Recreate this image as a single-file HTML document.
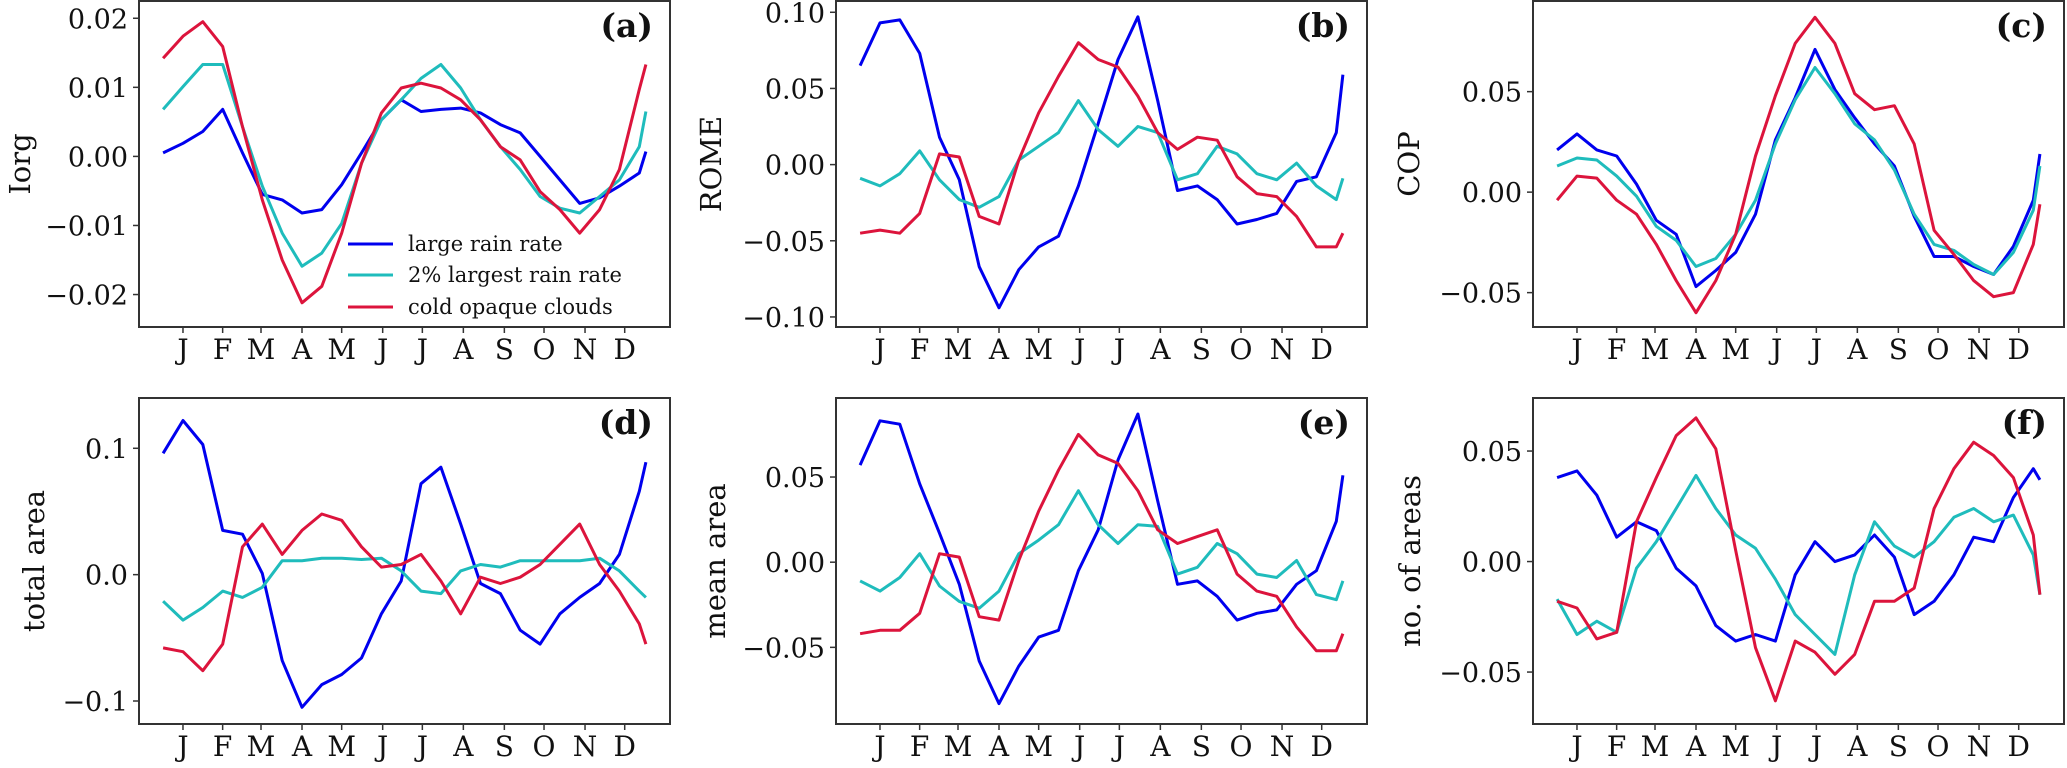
<!DOCTYPE html>
<html><head><meta charset="utf-8"><style>
html,body{margin:0;padding:0;background:#fff;}
svg{display:block;font-family:"DejaVu Serif","Liberation Serif",serif;}
</style></head><body>
<svg id="fig" width="2067" height="768" viewBox="0 0 2067 768" xmlns="http://www.w3.org/2000/svg"></svg>
<script>
const days = [0,15,30,45,60,75,90,105,120,135,150,165,180,195,210,225,240,255,270,285,300,315,330,345,360,365];
const monthLabels = ["J","F","M","A","M","J","J","A","S","O","N","D"];
const monthDays = [15,45,74,105,135,166,196,227,258,288,319,349];
const seriesNames = ["large rain rate","2% largest rain rate","cold opaque clouds"];

const aBlue = [0.0005,0.0019,0.0036,0.0068,0.0005,-0.0055,-0.0063,-0.0082,-0.0077,-0.0041,0.0005,0.0053,0.0082,0.0065,0.0068,0.0070,0.0063,0.0046,0.0034,0.0000,-0.0034,-0.0068,-0.0060,-0.0043,-0.0024,0.0007];
const aCyan = [0.0068,0.0101,0.0133,0.0133,0.0043,-0.0043,-0.0111,-0.0159,-0.0140,-0.0097,-0.0010,0.0053,0.0082,0.0113,0.0133,0.0099,0.0053,0.0014,-0.0019,-0.0058,-0.0075,-0.0082,-0.0058,-0.0034,0.0014,0.0065];
const aRed = [0.0142,0.0174,0.0195,0.0159,0.0043,-0.0063,-0.0150,-0.0212,-0.0188,-0.0111,-0.0010,0.0063,0.0099,0.0106,0.0099,0.0082,0.0053,0.0014,-0.0005,-0.0051,-0.0077,-0.0111,-0.0077,-0.0019,0.0097,0.0133];

const bBlue = [0.065,0.093,0.095,0.073,0.018,-0.010,-0.067,-0.094,-0.069,-0.054,-0.047,-0.014,0.027,0.069,0.097,0.042,-0.017,-0.014,-0.023,-0.039,-0.036,-0.032,-0.011,-0.008,0.021,0.059];
const bCyan = [-0.009,-0.014,-0.006,0.009,-0.010,-0.023,-0.028,-0.021,0.003,0.012,0.021,0.042,0.023,0.012,0.025,0.021,-0.010,-0.006,0.012,0.007,-0.006,-0.010,0.001,-0.014,-0.023,-0.009];
const bRed = [-0.045,-0.043,-0.045,-0.032,0.007,0.005,-0.034,-0.039,0.003,0.034,0.058,0.080,0.069,0.064,0.045,0.021,0.010,0.018,0.016,-0.008,-0.019,-0.021,-0.034,-0.054,-0.054,-0.045];

const cBlue = [0.021,0.029,0.021,0.018,0.004,-0.014,-0.021,-0.047,-0.039,-0.030,-0.011,0.026,0.047,0.071,0.051,0.037,0.024,0.013,-0.012,-0.032,-0.032,-0.037,-0.041,-0.027,-0.004,0.019];
const cCyan = [0.013,0.017,0.016,0.008,-0.002,-0.017,-0.024,-0.037,-0.033,-0.021,-0.004,0.024,0.046,0.062,0.049,0.034,0.026,0.011,-0.011,-0.026,-0.029,-0.036,-0.041,-0.030,-0.009,0.013];
const cRed = [-0.004,0.008,0.007,-0.004,-0.011,-0.026,-0.044,-0.060,-0.044,-0.021,0.018,0.048,0.074,0.087,0.074,0.049,0.041,0.043,0.024,-0.019,-0.031,-0.044,-0.052,-0.050,-0.026,-0.006];

const dBlue = [0.096,0.122,0.103,0.035,0.032,0.001,-0.068,-0.105,-0.087,-0.079,-0.066,-0.031,-0.005,0.072,0.085,0.040,-0.007,-0.015,-0.044,-0.055,-0.031,-0.018,-0.007,0.016,0.066,0.089];
const dCyan = [-0.021,-0.036,-0.026,-0.013,-0.018,-0.010,0.011,0.011,0.013,0.013,0.012,0.013,0.003,-0.013,-0.015,0.003,0.008,0.006,0.011,0.011,0.011,0.011,0.013,0.003,-0.013,-0.018];
const dRed = [-0.058,-0.061,-0.076,-0.055,0.022,0.040,0.016,0.035,0.048,0.043,0.022,0.006,0.008,0.016,-0.005,-0.031,-0.002,-0.007,-0.002,0.008,0.024,0.040,0.008,-0.013,-0.039,-0.055];

const eBlue = [0.057,0.083,0.081,0.046,0.017,-0.013,-0.058,-0.083,-0.061,-0.044,-0.040,-0.005,0.019,0.060,0.087,0.036,-0.013,-0.011,-0.020,-0.034,-0.030,-0.028,-0.013,-0.005,0.024,0.051];
const eCyan = [-0.011,-0.017,-0.009,0.005,-0.014,-0.023,-0.027,-0.017,0.005,0.013,0.022,0.042,0.022,0.011,0.022,0.021,-0.007,-0.003,0.011,0.005,-0.007,-0.009,0.001,-0.019,-0.022,-0.011];
const eRed = [-0.042,-0.040,-0.040,-0.030,0.005,0.003,-0.032,-0.034,0.001,0.030,0.054,0.075,0.063,0.058,0.042,0.019,0.011,0.015,0.019,-0.007,-0.017,-0.020,-0.038,-0.052,-0.052,-0.042];

const fBlue = [0.038,0.041,0.030,0.011,0.018,0.014,-0.003,-0.011,-0.029,-0.036,-0.033,-0.036,-0.006,0.009,0.000,0.003,0.012,0.002,-0.024,-0.018,-0.006,0.011,0.009,0.029,0.042,0.037];
const fCyan = [-0.017,-0.033,-0.027,-0.032,-0.003,0.009,0.024,0.039,0.024,0.012,0.006,-0.008,-0.024,-0.033,-0.042,-0.006,0.018,0.007,0.002,0.009,0.020,0.024,0.018,0.021,0.003,-0.015];
const fRed = [-0.018,-0.021,-0.035,-0.032,0.018,0.038,0.057,0.065,0.051,0.005,-0.039,-0.063,-0.036,-0.041,-0.051,-0.042,-0.018,-0.018,-0.012,0.024,0.042,0.054,0.048,0.038,0.012,-0.015];

const aTicks = [-0.02,-0.01,0.00,0.01,0.02];
const bTicks = [-0.10,-0.05,0.00,0.05,0.10];
const cTicks = [-0.05,0.00,0.05];
const dTicks = [-0.1,0.0,0.1];
const eTicks = [-0.05,0.00,0.05];
const fTicks = [-0.05,0.00,0.05];

const colors = ["#0000ee","#1fbcbc","#dc143c"];
const NS = "http://www.w3.org/2000/svg";
const svg = document.getElementById("fig");
function mk(tag, attrs, parent){ const e=document.createElementNS(NS,tag); for(const k in attrs) e.setAttribute(k,attrs[k]); (parent||svg).appendChild(e); return e; }

const panels = [
 {id:"a",left:139,top:1,ymin:-0.0247,ymax:0.0225,ticks:aTicks,dec:2,label:"Iorg",lx:20,series:[aBlue,aCyan,aRed]},
 {id:"b",left:836,top:1,ymin:-0.1066,ymax:0.1074,ticks:bTicks,dec:2,label:"ROME",lx:711,series:[bBlue,bCyan,bRed]},
 {id:"c",left:1533,top:1,ymin:-0.0671,ymax:0.0951,ticks:cTicks,dec:2,label:"COP",lx:1409,series:[cBlue,cCyan,cRed]},
 {id:"d",left:139,top:398,ymin:-0.1182,ymax:0.1398,ticks:dTicks,dec:1,label:"total area",lx:34,series:[dBlue,dCyan,dRed]},
 {id:"e",left:836,top:398,ymin:-0.0950,ymax:0.0964,ticks:eTicks,dec:2,label:"mean area",lx:715,series:[eBlue,eCyan,eRed]},
 {id:"f",left:1533,top:398,ymin:-0.0735,ymax:0.0740,ticks:fTicks,dec:2,label:"no. of areas",lx:1410,series:[fBlue,fCyan,fRed]}
];
const W=531, H=326;

panels.forEach(p=>{
  const g = mk("g",{});
  
  
  const xs = d => p.left + (d+18.25)/401.5*W;
  const ys = v => p.top + (p.ymax - v)/(p.ymax - p.ymin)*H;
  // series
  p.series.forEach((arr,si)=>{
    const pts = arr.map((v,i)=>xs(days[i]).toFixed(1)+","+ys(v).toFixed(1)).join(" ");
    const pl = mk("polyline",{points:pts,fill:"none",stroke:colors[si],"stroke-width":3,"stroke-linejoin":"round"},g);
    
    
  });
  // frame
  const fr = mk("rect",{x:p.left,y:p.top,width:W,height:H,fill:"none",stroke:"#333","stroke-width":2},g);
  
  
  // y ticks
  p.ticks.forEach(t=>{
    const y=ys(t);
    const tl = mk("line",{x1:p.left-6,x2:p.left,y1:y,y2:y,stroke:"#333","stroke-width":1.5},g);
    
    
    const tx = mk("text",{x:p.left-11,y:y+10,"text-anchor":"end","font-size":27,fill:"#111"},g);
    tx.textContent = (t<0?"\u2212":"")+Math.abs(t).toFixed(p.dec);
    
    
  });
  // x ticks
  monthDays.forEach((d,i)=>{
    const x=xs(d);
    const tl = mk("line",{x1:x,x2:x,y1:p.top+H,y2:p.top+H+6,stroke:"#333","stroke-width":1.5},g);
    
    
    const tx = mk("text",{x:x,y:p.top+H+32,"text-anchor":"middle","font-size":28,fill:"#111"},g);
    tx.textContent = monthLabels[i];
    
    
  });
  // y label
  const cy = p.top+H/2;
  const yl = mk("text",{x:p.lx,y:cy,"text-anchor":"middle","dominant-baseline":"central","font-size":29,fill:"#111",transform:`rotate(-90 ${p.lx} ${cy})`},g);
  yl.textContent = p.label;
  
  
  // panel letter
  const pl = mk("text",{x:p.left+W-17,y:p.top+36,"text-anchor":"end","font-size":33,"font-weight":"bold",fill:"#111"},g);
  pl.textContent = "("+p.id+")";
  
  
});

// legend in panel (a)
const lg = mk("g",{});


const legY=[244,275,307];
seriesNames.forEach((n,i)=>{
  const ln = mk("line",{x1:348,x2:393,y1:legY[i],y2:legY[i],stroke:colors[i],"stroke-width":3},lg);
  
  
  const t = mk("text",{x:408,y:legY[i]+7,"font-size":21,fill:"#111"},lg);
  t.textContent = n;
  
  
});
</script>
</body></html>
